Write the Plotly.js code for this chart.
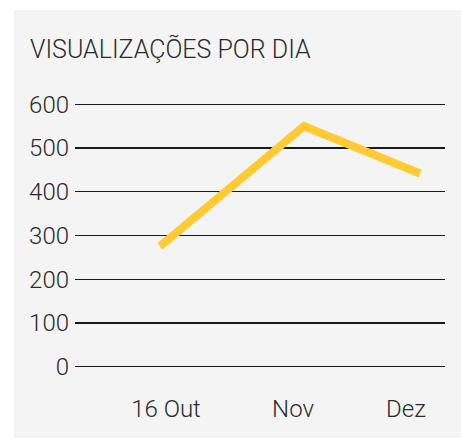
<!DOCTYPE html>
<html>
<head>
<meta charset="utf-8">
<script src="https://cdn.plot.ly/plotly-3.0.1.min.js"></script>
<style>
  html, body { margin: 0; padding: 0; background: #ffffff; }
  #chart { position: absolute; left: 14px; top: 10px; width: 447px; height: 428px; }
</style>
</head>
<body>
<div id="chart"></div>
<script>
// Data
const periodPos = [0, 1, 1.806];          // relative time position of each observation
const views = [275, 550, 442];            // visualizações por dia
const tickPos = [0.042, 0.924, 1.708];    // positions of the axis labels
const tickLabels = ['16 Out', 'Nov', 'Dez'];
const yTicks = [0, 100, 200, 300, 400, 500, 600];
const chartTitle = 'VISUALIZAÇÕES POR DIA';

const fontFamily = 'Roboto, "Open Sans", sans-serif';

const trace = {
  x: periodPos,
  y: views,
  type: 'scatter',
  mode: 'lines',
  line: { color: '#ffca33', width: 8 },
  hoverinfo: 'skip'
};

const layout = {
  width: 447,
  height: 428,
  margin: { l: 61, r: 16, t: 90, b: 67 },
  paper_bgcolor: '#f4f4f4',
  plot_bgcolor: '#f4f4f4',
  showlegend: false,
  font: { family: fontFamily, color: '#2b2b2b', weight: 300 },
  title: {
    text: chartTitle,
    font: { family: fontFamily, size: 25, color: '#2b2b2b', weight: 300 },
    x: 16 / 447,
    xanchor: 'left',
    xref: 'container',
    y: 1 - 39.5 / 428,
    yanchor: 'middle',
    yref: 'container'
  },
  xaxis: {
    type: 'linear',
    range: [-0.590, 1.979],
    tickmode: 'array',
    tickvals: tickPos,
    ticktext: tickLabels,
    showgrid: false,
    zeroline: false,
    showline: false,
    ticks: '',
    ticklabelstandoff: 21,
    tickfont: { family: fontFamily, size: 24, color: '#2b2b2b', weight: 300 },
    fixedrange: true
  },
  yaxis: {
    range: [-10, 610],
    tickmode: 'array',
    tickvals: yTicks,
    showgrid: true,
    gridcolor: '#1a1a1a',
    gridwidth: 1.2,
    zeroline: false,
    showline: false,
    ticks: '',
    ticklabelstandoff: 5,
    tickfont: { family: fontFamily, size: 24, color: '#2b2b2b', weight: 300 },
    fixedrange: true
  }
};

Plotly.newPlot('chart', [trace], layout, { displayModeBar: false, staticPlot: true });
</script>
</body>
</html>
